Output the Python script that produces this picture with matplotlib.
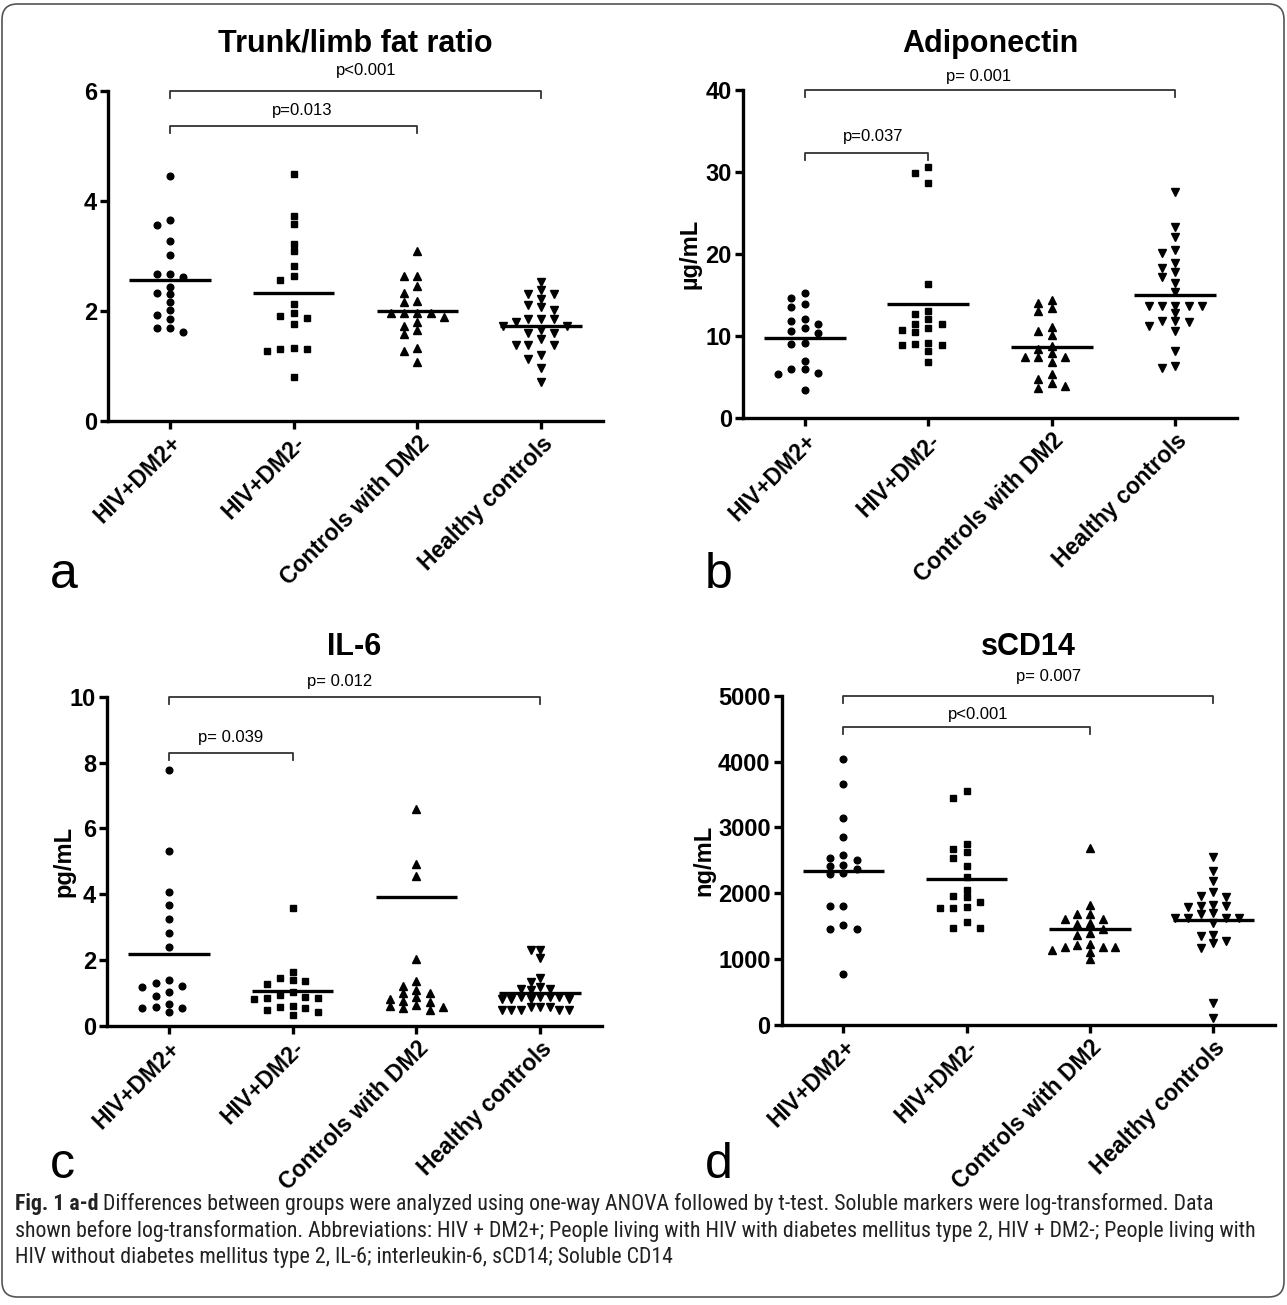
import matplotlib
matplotlib.use('Agg')
import matplotlib.pyplot as plt
import numpy as np
from matplotlib import font_manager
from matplotlib.patches import FancyBboxPatch

W, H = 1287, 1305

groups = ['HIV+DM2+', 'HIV+DM2-', 'Controls with DM2', 'Healthy controls']
markers = ['o', 's', '^', 'v']

# a - trunk/limb fat ratio
fat_hiv_dm2 = [4.45, 3.65, 3.56, 3.26, 3.02, 2.67, 2.67, 2.62, 2.44, 2.32, 2.30, 2.15, 2.02, 1.92, 1.85, 1.68, 1.68, 1.61]
fat_hiv = [4.48, 3.73, 3.58, 3.22, 3.09, 2.82, 2.63, 2.56, 2.12, 1.96, 1.91, 1.87, 1.76, 1.33, 1.30, 1.30, 1.26, 0.79]
fat_dm2 = [3.08, 2.64, 2.64, 2.45, 2.33, 2.18, 2.15, 1.95, 1.95, 1.95, 1.95, 1.88, 1.79, 1.73, 1.65, 1.58, 1.32, 1.27, 1.06]
fat_healthy = [2.53, 2.38, 2.30, 2.30, 2.22, 2.10, 2.06, 2.02, 1.85, 1.85, 1.85, 1.80, 1.73, 1.73,
               1.65, 1.59, 1.59, 1.49, 1.37, 1.37, 1.37, 1.20, 1.13, 0.96, 0.71]
fat_means = [2.55, 2.32, 1.99, 1.72]

# b - adiponectin
adipo_hiv_dm2 = [15.28, 14.6, 13.9, 13.54, 12.07, 11.83, 11.5, 11.01, 10.57, 10.4, 9.15, 9.06, 6.95, 6.01, 5.98, 5.53, 5.41, 3.37]
adipo_hiv = [30.57, 29.84, 28.7, 16.34, 13.09, 12.68, 12.11, 11.43, 11.43, 10.94, 10.7, 10.49, 9.15, 9.06, 8.94, 8.9, 8.13, 6.83]
adipo_dm2 = [14.39, 14.06, 13.41, 13.09, 11.06, 10.57, 10.16, 8.78, 8.38, 7.89, 7.48, 7.48, 7.48, 6.83, 5.41, 4.76, 4.27, 3.94, 3.66]
adipo_healthy = [27.56, 23.25, 22.11, 20.49, 20.16, 18.9, 18.26, 17.84, 17.23, 16.46, 15.4, 13.66, 13.66, 13.66,
                 13.6, 13.6, 12.76, 11.87, 11.87, 11.7, 11.26, 10.61, 8.17, 6.34, 6.1]
adipo_means = [9.8, 13.86, 8.62, 14.96]

# c - IL-6
il6_hiv_dm2 = [7.78, 5.32, 4.08, 3.67, 3.24, 2.83, 2.39, 1.38, 1.29, 1.22, 1.19, 1.04, 0.91, 0.66, 0.58, 0.55, 0.55, 0.43]
il6_hiv = [3.59, 1.64, 1.45, 1.39, 1.37, 1.27, 1.02, 0.94, 0.88, 0.84, 0.84, 0.82, 0.60, 0.58, 0.55, 0.47, 0.41, 0.33]
il6_dm2 = [6.59, 4.93, 4.56, 2.04, 1.37, 1.22, 1.09, 1.01, 0.99, 0.87, 0.82, 0.76, 0.71, 0.64, 0.59, 0.58, 0.53, 0.48]
il6_healthy = [2.30, 2.30, 2.07, 1.46, 1.32, 1.17, 1.12, 1.12, 1.09, 0.88, 0.88, 0.88, 0.88, 0.80, 0.80, 0.80, 0.80,
               0.58, 0.58, 0.58, 0.48, 0.48, 0.48, 0.48, 0.48]
il6_means = [2.17, 1.07, 3.91, 1.01]

# d - sCD14
scd14_hiv_dm2 = [4039, 3664, 3146, 2852, 2588, 2533, 2512, 2431, 2420, 2370, 2314, 2289, 1807, 1802, 1522, 1461, 1457, 776]
scd14_hiv = [3552, 3451, 2750, 2674, 2629, 2533, 2420, 2253, 2055, 1954, 1939, 1872, 1796, 1781, 1772, 1563, 1477, 1477]
scd14_dm2 = [2690, 1827, 1685, 1685, 1614, 1614, 1548, 1533, 1452, 1400, 1361, 1224, 1208, 1187, 1178, 1178, 1132, 1102, 995]
scd14_healthy = [2548, 2339, 2187, 2015, 1964, 1948, 1822, 1811, 1807, 1787, 1705, 1680, 1619, 1619, 1619, 1619,
                 1553, 1370, 1350, 1274, 1244, 1163, 330, 102]
scd14_means = [2335, 2218, 1457, 1594]

# panel setup: title, ylabel, ymax, yticks, brackets (g1, g2, level, label, label x, label offset px)
panels = [
    dict(letter='a', title='Trunk/limb fat ratio', ylabel='', ymax=6, yticks=[0, 2, 4, 6],
         data=[fat_hiv_dm2, fat_hiv, fat_dm2, fat_healthy], means=fat_means,
         box=(108, 603, 90.7, 420.7), title_y=44, ylabel_x=None, letter_xy=(50, 588),
         brackets=[(0, 3, 6.0, 'p<0.001', 1.59, 20), (0, 2, 5.36, 'p=0.013', 1.07, 15)]),
    dict(letter='b', title='Adiponectin', ylabel='µg/mL', ymax=40, yticks=[0, 10, 20, 30, 40],
         data=[adipo_hiv_dm2, adipo_hiv, adipo_dm2, adipo_healthy], means=adipo_means,
         box=(743, 1237, 90, 418), title_y=44, ylabel_x=690, letter_xy=(705, 588),
         brackets=[(0, 3, 40, 'p= 0.001', 1.41, 14), (0, 1, 32.3, 'p=0.037', 0.55, 17)]),
    dict(letter='c', title='IL-6', ylabel='pg/mL', ymax=10, yticks=[0, 2, 4, 6, 8, 10],
         data=[il6_hiv_dm2, il6_hiv, il6_dm2, il6_healthy], means=il6_means,
         box=(107, 602, 696.8, 1025.8), title_y=647, ylabel_x=64, letter_xy=(50, 1178),
         brackets=[(0, 3, 10, 'p= 0.012', 1.38, 15), (0, 1, 8.28, 'p= 0.039', 0.5, 16)]),
    dict(letter='d', title='sCD14', ylabel='ng/mL', ymax=5000, yticks=[0, 1000, 2000, 3000, 4000, 5000],
         data=[scd14_hiv_dm2, scd14_hiv, scd14_dm2, scd14_healthy], means=scd14_means,
         box=(781.7, 1275, 696, 1024.7), title_y=647, ylabel_x=704, letter_xy=(705, 1178),
         brackets=[(0, 3, 5000, 'p= 0.007', 1.66, 19), (0, 2, 4536, 'p<0.001', 1.09, 12)]),
]

caption = [
    ('Fig. 1 a-d', ' Differences between groups were analyzed using one-way ANOVA followed by t-test. '
                   'Soluble markers were log-transformed. Data'),
    ('', 'shown before log-transformation. Abbreviations: HIV + DM2+; People living with HIV with diabetes '
         'mellitus type 2, HIV + DM2-; People living with'),
    ('', 'HIV without diabetes mellitus type 2, IL-6; interleukin-6, sCD14; Soluble CD14'),
]

plt.rcParams['font.family'] = ['Liberation Sans', 'DejaVu Sans']
names = {f.name for f in font_manager.fontManager.ttflist}
cap_font = next((n for n in ['Liberation Sans Narrow', 'Roboto Condensed', 'Open Sans Condensed']
                 if n in names), 'Liberation Sans')


def swarm(ax, values, center, step_px=13.3, row_px=7.0, max_half=0.31):
    vals = np.asarray(values, float)
    ypx = ax.transData.transform(np.column_stack([np.zeros(len(vals)), vals]))[:, 1]
    cands = [0, -1, 1, -2, 2, -3, 3, -4, 4, -5, 5, -6, 6, -7, 7]
    placed = []
    ks = np.zeros(len(vals))
    for i in np.argsort(-vals, kind='stable'):
        for k in cands:
            if all(abs(ypx[i] - py) >= row_px or abs(k - pk) >= 1 for py, pk in placed):
                break
        placed.append((ypx[i], k))
        ks[i] = k
    unit = ax.transData.transform([[1, 0]])[0, 0] - ax.transData.transform([[0, 0]])[0, 0]
    dx = ks * step_px / unit
    m = np.abs(dx).max()
    if m > max_half:
        dx *= max_half / m
    return center + dx


fig = plt.figure(figsize=(W / 100, H / 100), dpi=100)
renderer = fig.canvas.get_renderer()

for p in panels:
    x0, x1, yt, yb = p['box']
    ax = fig.add_axes([x0 / W, 1 - yb / H, (x1 - x0) / W, (yb - yt) / H])
    ax.set_xlim(-0.5, 3.5)
    ax.set_ylim(0, p['ymax'])
    for s in ['top', 'right']:
        ax.spines[s].set_visible(False)
    for s in ['left', 'bottom']:
        ax.spines[s].set_linewidth(2.4)
    ax.tick_params(width=2.4, length=6, pad=2)
    ax.set_yticks(p['yticks'])
    ax.set_yticklabels([str(t) for t in p['yticks']], fontsize=17, fontweight='bold')
    ax.set_xticks(range(4))
    ax.set_xticklabels(groups, rotation=45, ha='right', va='top', rotation_mode='anchor',
                       fontsize=16.5, fontweight='bold')

    for g, (vals, mk) in enumerate(zip(p['data'], markers)):
        xs = swarm(ax, vals, g)
        ax.plot(xs, vals, ls='none', marker=mk, ms=5.2 if mk in '^v' else 4.8,
                color='black', clip_on=False, zorder=3)
        ax.plot([g - 0.33, g + 0.33], [p['means'][g]] * 2, color='black', lw=2.4,
                solid_capstyle='butt', zorder=4)

    tick = 7 * p['ymax'] / (yb - yt)
    for g1, g2, lev, lab, lx, off in p['brackets']:
        ax.plot([g1, g1, g2, g2], [lev - tick, lev, lev, lev - tick], color='#333333', lw=1.3, clip_on=False)
        ax.annotate(lab, xy=(lx, lev), xytext=(0, off * 0.72), textcoords='offset points',
                    ha='center', va='center', fontsize=12, annotation_clip=False)

    fig.text((x0 + x1) / 2 / W, 1 - p['title_y'] / H, p['title'], ha='center', va='center',
             fontsize=22, fontweight='bold')
    if p['ylabel']:
        fig.text(p['ylabel_x'] / W, 1 - (yt + yb) / 2 / H, p['ylabel'], rotation=90, ha='center',
                 va='center', fontsize=17, fontweight='bold')
    lx, ly = p['letter_xy']
    fig.text(lx / W, 1 - ly / H, p['letter'], fontsize=36, ha='left', va='baseline')

# caption, sized so the second line fills the box width
probe = fig.text(15 / W, 0, caption[1][1], fontsize=14, family=cap_font)
cap_size = 14 * 1250 / probe.get_window_extent(renderer).width
probe.remove()
for i, (bold, rest) in enumerate(caption):
    y = 1 - (1204 + 27 * i) / H
    x = 15
    if bold:
        tb = fig.text(x / W, y, bold, fontsize=cap_size, family=cap_font, fontweight='bold',
                      va='center', color='#222222')
        x += tb.get_window_extent(renderer).width
    fig.text(x / W, y, rest, fontsize=cap_size, family=cap_font, va='center', color='#222222')

border = FancyBboxPatch((2 / W, 1 - 1297 / H), 1282 / W, 1293 / H,
                        boxstyle='round,pad=0,rounding_size=0.012', transform=fig.transFigure,
                        fill=False, edgecolor='#555555', lw=1.2)
fig.add_artist(border)

fig.savefig('out.png', dpi=100)
